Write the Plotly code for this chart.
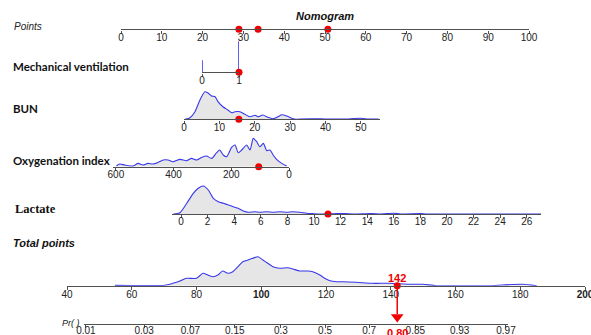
import math
import plotly.graph_objects as go

# ---------------- data ----------------
points_ticks = list(range(0, 101, 10))
points_marks = [28.9, 33.6, 50.7]

mv_ticks = [0, 1]
mv_spike_x = [0, 1]
mv_spike_h = [12, 31]
mv_value = 1

bun_ticks = [0, 10, 20, 30, 40, 50]
bun_x = [0.28, 1.7, 3.1, 4.5, 5.9, 6.8, 7.8, 8.8, 9.6, 11.0, 12.4, 13.5, 14.4, 15.8, 17.2,
         18.6, 20.1, 20.9, 22.3, 23.7, 25.1, 26.6, 27.6, 29.0, 30.4, 31.8, 33, 36, 40, 45, 50, 52, 55]
bun_d = [0, 1.6, 7.6, 19.3, 27.6, 26.3, 23.3, 22.6, 17.6, 12.6, 9.3, 6.6, 7.6, 7.6, 5.0,
         2.6, 4.0, 2.6, 4.3, 2.0, 0.6, 2.6, 4.6, 3.3, 1.0, 0, 0.3, 0.5, 0.3, 0.2, 1.0, 0.3, 0.2]
bun_value = 15.5

oi_ticks = [600, 400, 200, 0]
oi_x = [598, 587, 569, 541, 523, 506, 489, 471, 454, 436, 419, 402, 378, 355, 338, 320, 303,
        286, 268, 251, 240, 228, 216, 199, 187, 176, 164, 147, 135, 124, 112, 101, 89, 77,
        66, 55, 43, 25, 8]
oi_d = [0.7, 2.7, 1.7, 0.7, 3.3, 1.7, 3.3, 2.7, 4.3, 6.7, 6.7, 5.0, 7.3, 6.0, 8.3, 6.7, 9.3,
        10.7, 8.3, 14.0, 16.7, 11.7, 10.0, 19.3, 21.7, 14.0, 16.7, 21.7, 16.7, 28.3, 25.0, 20.0,
        23.3, 16.0, 16.7, 11.7, 7.3, 3.3, 0.7]
oi_value = 105

lac_ticks = list(range(0, 27, 2))
lac_x = [-0.58, -0.08, 0.43, 0.92, 1.3, 1.68, 2.05, 2.43, 2.8, 3.18, 3.56, 3.93, 4.3, 4.68,
         5.06, 5.56, 5.94, 6.44, 6.94, 7.44, 7.95, 8.44, 8.95, 9.45, 9.95, 10.5, 11.5, 12.3,
         13.0, 14.3, 15.0, 16.0, 16.5, 18.0, 18.5, 27.1]
lac_d = [0, 1.3, 10.7, 20.7, 25.7, 28.0, 24.0, 15.7, 12.3, 10.7, 9.0, 7.3, 5.7, 3.0,
         1.7, 2.3, 1.7, 2.3, 1.7, 2.3, 1.7, 2.3, 1.7, 0.7, 0.3, 0, 0.3, 0.5,
         0, 0.5, 0, 0.8, 0, 0.4, 0, 0]
lac_value = 11.05

tp_ticks = list(range(40, 201, 20))
tp_labels = ["40", "60", "80", "<b>100</b>", "120", "140", "160", "180", "<b>200</b>"]
tp_x = [54.8, 70.2, 72.7, 74.9, 76.9, 80.0, 82.0, 83.5, 85.1, 86.6, 88.1, 89.7, 91.2, 92.8,
        94.3, 95.9, 97.4, 99.0, 100.5, 102.0, 103.6, 105.7, 108.2, 109.8, 111.9, 114.4,
        115.9, 118.1, 119.6, 121.2, 123.2, 125.2, 129.4, 134.4, 139.7, 145.9, 149.9, 154.1,
        170.6, 174.6, 180.7, 185.1]
tp_d = [0.3, 0.5, 2.4, 4.7, 7.4, 7.4, 12.4, 10.7, 9.0, 10.7, 14.7, 12.4, 14.0, 19.0,
        24.0, 25.7, 27.4, 29.0, 25.7, 22.4, 19.0, 17.4, 18.0, 16.7, 14.7, 14.7,
        14.0, 10.7, 7.4, 5.0, 4.0, 4.0, 3.4, 2.4, 2.4, 1.4, 1.4, 0,
        0, 0.7, 1.4, 0]
tp_value = 142

pr_ticks = [0.01, 0.03, 0.07, 0.15, 0.3, 0.5, 0.7, 0.85, 0.93, 0.97]
pr_labels = ["0.01", "0.03", "0.07", "0.15", "0.3", "0.5", "0.7", "0.85", "0.93", "0.97"]
pr_value = 0.80
logit_intercept = -7.446
logit_slope = 0.0622

# ---------------- geometry ----------------
W, H = 591, 335
BLUE = "rgb(55,55,235)"
FILL = "rgb(230,230,230)"
RED = "rgb(240,0,0)"
AXC = "#505050"
TICKFONT = dict(family="Liberation Sans, Arial", size=10, color="#222")


def py(y):
    return 1 - y / H


def px(x):
    return x / W


tp_left, tp_right, tp_range = 67, 585, [40, 200]


def tp_to_px(v):
    return tp_left + (v - tp_range[0]) / (tp_range[1] - tp_range[0]) * (tp_right - tp_left)


def pr_to_tp(p):
    return (math.log(p / (1 - p)) - logit_intercept) / logit_slope


pr_range = [45.4, 176.1]

# name: (left px, right px, range, baseline px, height px, tickvals, ticktext, standoff)
rows = [
    ("pts", 121, 529, [0, 100], 29.3, 12, points_ticks, None, -5),
    ("mv", 202, 239, [0, 1], 72.3, 33, mv_ticks, None, -5),
    ("bun", 184, 380, [0, 55.4], 119.3, 31, bun_ticks, None, -5),
    ("oi", 113, 289, [610, 0], 166.7, 31, oi_ticks, None, -5),
    ("lac", 172, 541, [-0.68, 27.07], 214, 31, lac_ticks, None, -5),
    ("tp", tp_left, tp_right, tp_range, 285.7, 31, tp_ticks, tp_labels, -4),
    ("pr", tp_to_px(pr_range[0]), tp_to_px(pr_range[1]), pr_range, 324, 12,
     [pr_to_tp(p) for p in pr_ticks], pr_labels, -6),
]

fig = go.Figure()
layout = dict(width=W, height=H, margin=dict(l=0, r=0, t=0, b=0, autoexpand=False),
              paper_bgcolor="white", plot_bgcolor="rgba(0,0,0,0)", showlegend=False)
ax = {}
for i, (name, l, r, rng, base, hgt, tv, tt, so) in enumerate(rows):
    k = "" if i == 0 else str(i + 1)
    ax[name] = ("x" + k, "y" + k)
    xa = dict(domain=[px(l), px(r)], range=rng, anchor="y" + k, showline=True,
              linecolor=AXC, linewidth=1.4, ticks="outside", ticklen=3, tickwidth=1,
              tickcolor=AXC, tickvals=tv, tickfont=TICKFONT, showgrid=False,
              zeroline=False, fixedrange=True, ticklabeloverflow="allow",
              ticklabelstandoff=so, automargin=False)
    if tt is not None:
        xa["ticktext"] = tt
    ya = dict(domain=[py(base), py(base - hgt)], range=[0, hgt], anchor="x" + k,
              visible=False, fixedrange=True, automargin=False)
    layout["xaxis" + k] = xa
    layout["yaxis" + k] = ya


def density(name, xs, ds):
    xr, yr = ax[name]
    fig.add_trace(go.Scatter(x=xs, y=ds, xaxis=xr, yaxis=yr, mode="lines",
                             line=dict(color=BLUE, width=1.1, shape="spline", smoothing=0.6),
                             fill="tozeroy", fillcolor=FILL, cliponaxis=False,
                             hoverinfo="skip"))


def dots(name, xs):
    xr, yr = ax[name]
    fig.add_trace(go.Scatter(x=xs, y=[0] * len(xs), xaxis=xr, yaxis=yr, mode="markers",
                             marker=dict(color=RED, size=7), cliponaxis=False,
                             hoverinfo="skip"))


# points axis dots
dots("pts", points_marks)

# mechanical ventilation spikes
sx, sy = [], []
for xv, hv in zip(mv_spike_x, mv_spike_h):
    sx += [xv, xv, None]
    sy += [0, hv, None]
fig.add_trace(go.Scatter(x=sx, y=sy, xaxis=ax["mv"][0], yaxis=ax["mv"][1], mode="lines",
                         line=dict(color=BLUE, width=1.6), cliponaxis=False,
                         hoverinfo="skip"))
dots("mv", [mv_value])

density("bun", bun_x, bun_d)
dots("bun", [bun_value])

density("oi", oi_x, oi_d)
dots("oi", [oi_value])

density("lac", lac_x, lac_d)
dots("lac", [lac_value])

density("tp", tp_x, tp_d)
dots("tp", [tp_value])

# arrow from total points down to probability axis
fig.add_shape(type="line", xref=ax["tp"][0], yref="paper", x0=tp_value, x1=tp_value,
              y0=py(285.7), y1=py(314), line=dict(color=RED, width=1.5))
fig.add_trace(go.Scatter(x=[pr_to_tp(pr_value)], y=[7], xaxis=ax["pr"][0],
                         yaxis=ax["pr"][1], mode="markers",
                         marker=dict(symbol="triangle-down", size=11, color=RED),
                         cliponaxis=False, hoverinfo="skip"))

fig.update_layout(**layout)

ann = []


def label(text, x, y, font, xanchor="left", xref="paper"):
    ann.append(dict(text=text, x=x if xref != "paper" else px(x), y=py(y), xref=xref,
                    yref="paper", xanchor=xanchor, yanchor="middle", showarrow=False,
                    font=font))


SANS = "Liberation Sans, Arial"
HUM = "Lato, Open Sans"
label("<i>Points</i>", 12, 26, dict(family=SANS, size=10, color="#222"))
label("<b><i>Nomogram</i></b>", 325, 16, dict(family=SANS, size=11, color="#111"),
      xanchor="center")
label("<b>Mechanical ventilation</b>", 11, 67, dict(family=HUM, size=11.5, color="#111"))
label("<b>BUN</b>", 11, 108, dict(family=HUM, size=11.5, color="#111"))
label("<b>Oxygenation index</b>", 11, 160, dict(family=HUM, size=11.5, color="#111"))
label("<b>Lactate</b>", 13, 209, dict(family="Liberation Serif, Times New Roman", size=12.5,
                                      color="#111"))
label("<b><i>Total points</i></b>", 11, 243, dict(family=SANS, size=11, color="#111"))
label("<i>Pr( )</i>", 60, 323, dict(family=SANS, size=9, color="#222"))
label("<b>142</b>", tp_value, 278, dict(family=SANS, size=11, color=RED), xanchor="center",
      xref=ax["tp"][0])
label("<b>0.80</b>", pr_to_tp(pr_value), 333, dict(family=SANS, size=11, color=RED),
      xanchor="center", xref=ax["pr"][0])
fig.update_layout(annotations=ann)

fig.write_html("out.html")
